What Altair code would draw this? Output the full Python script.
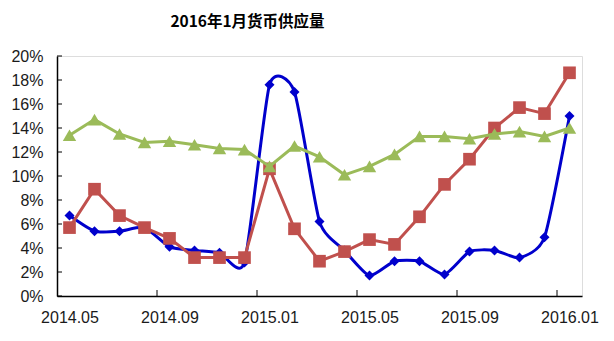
import altair as alt
import pandas as pd

months = ["2014.05", "2014.06", "2014.07", "2014.08", "2014.09", "2014.10", "2014.11",
          "2014.12", "2015.01", "2015.02", "2015.03", "2015.04", "2015.05", "2015.06",
          "2015.07", "2015.08", "2015.09", "2015.10", "2015.11", "2015.12", "2016.01"]
m0 = [6.7, 5.4, 5.4, 5.7, 4.1, 3.8, 3.6, 2.8, 17.6, 17.0, 6.2, 3.8, 1.7, 2.9, 2.9,
      1.8, 3.7, 3.8, 3.2, 4.9, 15.0]
m1 = [5.7, 8.9, 6.7, 5.7, 4.8, 3.2, 3.2, 3.2, 10.6, 5.6, 2.9, 3.7, 4.7, 4.3, 6.6,
      9.3, 11.4, 14.0, 15.7, 15.2, 18.6]
m2 = [13.4, 14.7, 13.5, 12.8, 12.9, 12.6, 12.3, 12.2, 10.8, 12.5, 11.6, 10.1, 10.8,
      11.8, 13.3, 13.3, 13.1, 13.5, 13.7, 13.3, 14.0]
y_tick_values = [0, 2, 4, 6, 8, 10, 12, 14, 16, 18, 20]
x_label_months = ["2014.05", "2014.09", "2015.01", "2015.05", "2015.09", "2016.01"]
title_text = "2016年1月货币供应量"

W, H = 525, 240
FONT = "Liberation Sans"

idx = list(range(len(months)))
df = pd.DataFrame({"idx": idx, "month": months, "m0": m0, "m1": m1, "m2": m2})
label_idx = [months.index(m) for m in x_label_months]
xticks = pd.DataFrame({"pos": [i - 0.5 for i in label_idx if i > 0]})
yticks = pd.DataFrame({"v": y_tick_values})

label_expr = "[" + ",".join("'%s'" % m for m in months) + "][datum.value]"

xscale = alt.Scale(domain=[-0.5, len(months) - 0.5], nice=False, zero=False)
yscale = alt.Scale(domain=[0, 20], nice=False)

xaxis = alt.Axis(values=label_idx, labelExpr=label_expr, ticks=False, tickSize=0,
                 grid=False, title=None, labelFont=FONT, labelFontSize=16,
                 labelColor="#1a1a1a", labelPadding=13, domainColor="#000000",
                 domainWidth=1.5, labelFlush=False, labelOverlap=False)
yaxis = alt.Axis(values=y_tick_values, labelExpr="datum.value + '%'", ticks=False,
                 tickSize=0, grid=False, title=None, labelFont=FONT, labelFontSize=16,
                 labelColor="#1a1a1a", labelPadding=14, domainColor="#000000",
                 domainWidth=1.5)

base = alt.Chart(df)
X = alt.X("idx:Q", scale=xscale, axis=xaxis)


def series(col, color, shape, size, interp, tension=None):
    kw = dict(color=color, strokeWidth=3, interpolate=interp)
    if tension is not None:
        kw["tension"] = tension
    line = base.mark_line(**kw).encode(
        x=X, y=alt.Y(col + ":Q", scale=yscale, axis=yaxis))
    pts = base.mark_point(color=color, filled=True, shape=shape, size=size,
                          opacity=1).encode(
        x=X, y=alt.Y(col + ":Q", scale=yscale, axis=yaxis))
    return [line, pts]


layers = []
layers += series("m0", "#0000CC", "diamond", 100, "cardinal", 0.4)
layers += series("m1", "#C0504D", "square", 160, "linear")
layers += series("m2", "#9BBB59", "triangle-up", 180, "linear")

xtick_layer = alt.Chart(xticks).mark_rule(color="#000000", strokeWidth=1).encode(
    x=alt.X("pos:Q", scale=xscale, axis=xaxis),
    y=alt.value(H), y2=alt.value(H - 6))
ytick_layer = alt.Chart(yticks).mark_rule(color="#000000", strokeWidth=1).encode(
    y=alt.Y("v:Q", scale=yscale, axis=yaxis),
    x=alt.value(0), x2=alt.value(5))

chart = alt.layer(xtick_layer, ytick_layer, *layers).properties(
    width=W, height=H,
    title=alt.TitleParams(title_text, font="Noto Sans CJK SC", fontSize=15.5,
                          fontWeight="bold", color="#000000", anchor="middle",
                          dx=-72, offset=18),
    autosize=alt.AutoSizeParams(type="none"),
    padding={"left": 57, "top": 56, "right": 32, "bottom": 45},
).configure_view(stroke=None).configure(background="#ffffff")

chart.save("out.html", embed_options={"renderer": "svg", "actions": False})
